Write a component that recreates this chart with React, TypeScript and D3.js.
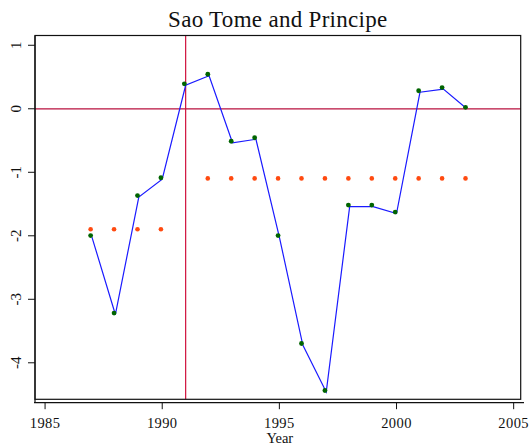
import * as d3 from "d3";

const W = 531;
const H = 447;

const years = [1987, 1988, 1989, 1990, 1991, 1992, 1993, 1994, 1995, 1996, 1997, 1998, 1999, 2000, 2001, 2002, 2003];
const values = [-2.02, -3.24, -1.39, -1.11, 0.37, 0.52, -0.535, -0.48, -2.02, -3.72, -4.46, -1.54, -1.54, -1.65, 0.26, 0.31, 0.0];

// regime means, before and after the break
const meanYears = [1987, 1988, 1989, 1990, 1992, 1993, 1994, 1995, 1996, 1997, 1998, 1999, 2000, 2001, 2002, 2003];
const meanValues = [-1.92, -1.92, -1.92, -1.92, -1.12, -1.12, -1.12, -1.12, -1.12, -1.12, -1.12, -1.12, -1.12, -1.12, -1.12, -1.12];

const xTicks = [1985, 1990, 1995, 2000, 2005];
const yTicks = [1, 0, -1, -2, -3, -4];
const breakYear = 1991;

const FRAME = { left: 35, right: 520.7, top: 35.5, bottom: 399.3 };

// markers sit a touch up/left of the line vertices in the original render
const MK_DX = -1.3;
const MK_DY = -1.5;

export default function App() {
  const x = d3.scaleLinear().domain([1984.57, 2005.3]).range([FRAME.left, FRAME.right]);
  const y = d3.scaleLinear().domain([-4.575, 1.154]).range([FRAME.bottom, FRAME.top]);

  const line = d3
    .line<number>()
    .x((_, i) => x(years[i]))
    .y((d) => y(d));

  const axisY = 402.7;
  const serif = "'Liberation Serif', 'Times New Roman', serif";

  return (
    <svg width={W} height={H} style={{ position: "absolute", left: 0, top: 0, background: "#fff" }}>
      <rect x={0} y={0} width={W} height={H} fill="#fff" />
      <text
        x={(FRAME.left + FRAME.right) / 2}
        y={27}
        textAnchor="middle"
        fontFamily={serif}
        fontSize={23}
        letterSpacing={0.3}
        fill="#111"
      >
        Sao Tome and Principe
      </text>

      {/* reference lines */}
      <line x1={FRAME.left} x2={FRAME.right} y1={y(0)} y2={y(0)} stroke="#b8103e" strokeWidth={1.2} />
      <line x1={x(breakYear)} x2={x(breakYear)} y1={FRAME.top} y2={FRAME.bottom} stroke="#d0103c" strokeWidth={1.2} />

      <path d={line(values) ?? ""} fill="none" stroke="#1a1aff" strokeWidth={1.2} />

      {meanYears.map((yr, i) => (
        <circle key={"m" + i} cx={x(yr) + MK_DX} cy={y(meanValues[i]) + MK_DY} r={2.3} fill="#ff4a10" />
      ))}
      {years.map((yr, i) => (
        <circle key={"p" + i} cx={x(yr) + MK_DX} cy={y(values[i]) + MK_DY} r={2.4} fill="#006400" />
      ))}

      {/* frame */}
      <rect
        x={FRAME.left}
        y={FRAME.top}
        width={FRAME.right - FRAME.left}
        height={FRAME.bottom - FRAME.top}
        fill="none"
        stroke="#111"
        strokeWidth={1.2}
      />

      {/* y axis */}
      <line x1={FRAME.left} x2={FRAME.left} y1={FRAME.top} y2={axisY} stroke="#111" strokeWidth={1.2} />
      {yTicks.map((t) => (
        <g key={"yt" + t}>
          <line x1={FRAME.left - 7} x2={FRAME.left} y1={y(t)} y2={y(t)} stroke="#111" strokeWidth={1} />
          <text
            transform={`translate(21,${y(t)}) rotate(-90)`}
            textAnchor="middle"
            fontFamily={serif}
            fontSize={15}
            fill="#111"
          >
            {t}
          </text>
        </g>
      ))}

      {/* x axis */}
      <line x1={FRAME.left - 1} x2={524} y1={axisY} y2={axisY} stroke="#111" strokeWidth={1.2} />
      {xTicks.map((t) => (
        <g key={"xt" + t}>
          <line x1={x(t)} x2={x(t)} y1={axisY} y2={axisY + 6.5} stroke="#111" strokeWidth={1} />
          <text x={x(t)} y={428.3} textAnchor="middle" fontFamily={serif} fontSize={14.5} letterSpacing={0.4} fill="#111">
            {t}
          </text>
        </g>
      ))}
      <text x={(FRAME.left + FRAME.right) / 2 + 2} y={443.3} textAnchor="middle" fontFamily={serif} fontSize={14.5} fill="#111">
        Year
      </text>
    </svg>
  );
}
